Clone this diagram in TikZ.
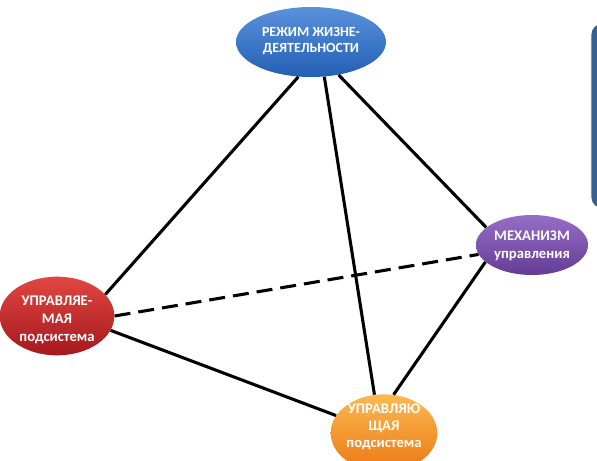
\documentclass[tikz,border=0pt]{standalone}
\usepackage{fontspec}
\setmainfont{Carlito}
\usetikzlibrary{shapes.geometric}
\definecolor{bluetop}{RGB}{90,145,220}
\definecolor{bluebot}{RGB}{35,95,180}
\definecolor{purptop}{RGB}{150,110,200}
\definecolor{purpbot}{RGB}{100,60,150}
\definecolor{redtop}{RGB}{225,70,65}
\definecolor{redbot}{RGB}{165,25,30}
\definecolor{orgtop}{RGB}{252,185,80}
\definecolor{orgbot}{RGB}{235,120,20}
\definecolor{boxblue}{RGB}{55,95,150}
\begin{document}
\begin{tikzpicture}[x=0.75pt,y=-0.75pt,
  blob/.style={ellipse, inner sep=0pt},
  lbl/.style={align=center, text=white, inner sep=0pt,
    font=\fontsize{10.5}{12.5}\selectfont\bfseries},
  edge/.style={line width=2.3pt, black},
  dashedge/.style={line width=2.3pt, black, dash pattern=on 12pt off 6pt}]
\useasboundingbox (0,0) rectangle (597,461);
\clip (0,0) rectangle (597,461);
\fill[white] (0,0) rectangle (597,461);
% side box (partially visible)
\node[fill=boxblue, rounded corners=9pt, anchor=north west, inner sep=0pt,
  minimum width=40pt, minimum height=139pt] (box) at (591,23) {};
% ellipses
\node[blob, top color=bluetop, bottom color=bluebot, minimum width=112.5pt, minimum height=52.5pt] (top) at (311,42) {};
\node[blob, top color=purptop, bottom color=purpbot, minimum width=84pt, minimum height=45pt] (right) at (532,245) {};
\node[blob, top color=redtop, bottom color=redbot, minimum width=86pt, minimum height=59pt] (left) at (57,316) {};
\node[blob, top color=orgtop, bottom color=orgbot, minimum width=80pt, minimum height=58pt] (bottom) at (384,433) {};
% connectors
\draw[edge] (top.250) -- (left.24);
\draw[edge] (top.291) -- (bottom.104);
\draw[edge] (top.310) -- (right.159);
\draw[edge] (left.-15) -- (bottom.160);
\draw[edge] (right.200) -- (bottom.76);
\draw[dashedge] (left.0) -- (right.190);
% labels
\node[lbl] (toptext) at (311,41) {РЕЖИМ ЖИЗНЕ-\\ДЕЯТЕЛЬНОСТИ};
\node[lbl, font=\fontsize{11}{13}\selectfont\bfseries] (righttext) at (532,246) {МЕХАНИЗМ\\управления};
\node[lbl, font=\fontsize{11}{13.5}\selectfont\bfseries] (lefttext) at (57,320) {УПРАВЛЯЕ-\\МАЯ\\подсистема};
\node[lbl, font=\fontsize{11}{12.5}\selectfont\bfseries] (bottomtext) at (384,427) {УПРАВЛЯЮ\\ЩАЯ\\подсистема};
\end{tikzpicture}
\end{document}
